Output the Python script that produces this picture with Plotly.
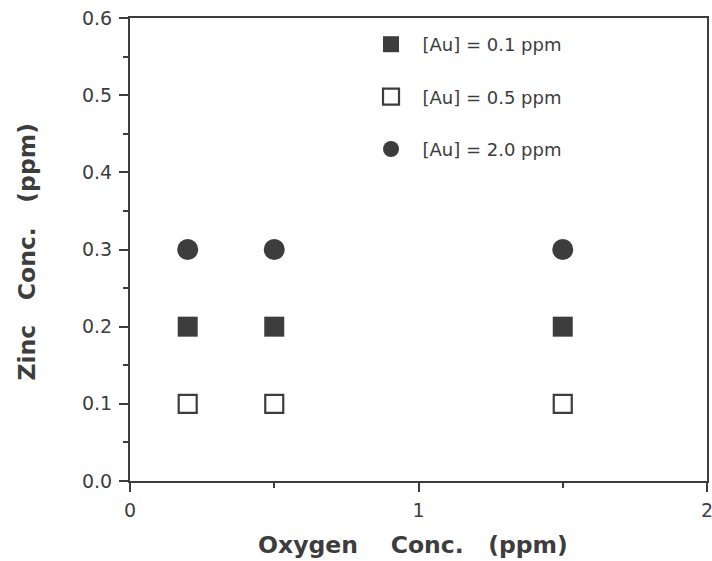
import plotly.graph_objects as go

oxygen = [0.2, 0.5, 1.5]
zinc_au01 = [0.2, 0.2, 0.2]
zinc_au05 = [0.1, 0.1, 0.1]
zinc_au20 = [0.3, 0.3, 0.3]
series_names = ["[Au] = 0.1 ppm", "[Au] = 0.5 ppm", "[Au] = 2.0 ppm"]
x_ticks = [0, 1, 2]
x_tick_labels = ["0", "1", "2"]
y_ticks = [0.0, 0.1, 0.2, 0.3, 0.4, 0.5, 0.6]
y_tick_labels = ["0.0", "0.1", "0.2", "0.3", "0.4", "0.5", "0.6"]
x_title = "Oxygen    Conc.   (ppm)"
y_title = "Zinc   Conc.   (ppm)"

ink = "#3d3d3d"
font = "DejaVu Sans, Liberation Sans, Arial, sans-serif"

fig = go.Figure()
fig.add_trace(go.Scatter(x=oxygen, y=zinc_au01, mode="markers", name="  " + series_names[0],
                         legendgroup="a",
                         marker=dict(symbol="square", size=20, color=ink, line=dict(width=0))))
fig.add_trace(go.Scatter(x=oxygen, y=zinc_au05, mode="markers", name="  " + series_names[1],
                         legendgroup="b",
                         marker=dict(symbol="square", size=18, color="white", line=dict(width=2.2, color=ink))))
fig.add_trace(go.Scatter(x=oxygen, y=zinc_au20, mode="markers", name="  " + series_names[2],
                         legendgroup="c",
                         marker=dict(symbol="circle", size=21, color=ink, line=dict(width=0))))

axis_common = dict(showline=True, linecolor=ink, linewidth=2, mirror=True, ticks="outside",
                   tickcolor=ink, tickwidth=2, ticklen=9, showgrid=False, zeroline=False,
                   automargin=False, ticklabeloverflow="allow",
                   tickfont=dict(family=font, size=19, color=ink))

fig.update_xaxes(range=[0, 2], tickvals=x_ticks, ticktext=x_tick_labels, ticklabelstandoff=2,
                 minor=dict(dtick=0.5, ticks="outside", ticklen=5, tickcolor=ink, tickwidth=2),
                 **axis_common)
fig.update_yaxes(range=[0, 0.6], tickvals=y_ticks, ticktext=y_tick_labels, ticklabelstandoff=3,
                 minor=dict(dtick=0.05, ticks="outside", ticklen=5, tickcolor=ink, tickwidth=2),
                 **axis_common)

fig.add_annotation(text=x_title, xref="paper", yref="paper", x=0.4905, y=-0.138,
                   xanchor="center", yanchor="middle", showarrow=False,
                   font=dict(family=font, size=23.5, color=ink, weight="bold"))
fig.add_annotation(text=y_title, xref="paper", yref="paper", x=-0.1768, y=0.4957,
                   xanchor="center", yanchor="middle", showarrow=False, textangle=-90,
                   font=dict(family=font, size=23.5, color=ink, weight="bold"))

fig.update_layout(
    width=712, height=561,
    margin=dict(l=130, r=5, t=18, b=80),
    plot_bgcolor="white", paper_bgcolor="white",
    showlegend=True,
    legend=dict(x=0.4177, xanchor="left", y=0.9827, yanchor="top",
                traceorder="grouped", tracegroupgap=26,
                font=dict(family=font, size=18, color=ink),
                bgcolor="rgba(0,0,0,0)", itemsizing="trace"),
)

fig.write_html(
    "out.html",
    config={"displayModeBar": False},
    post_script="document.body.style.margin='0';document.documentElement.style.overflow='hidden';document.body.style.overflow='hidden';",
)
